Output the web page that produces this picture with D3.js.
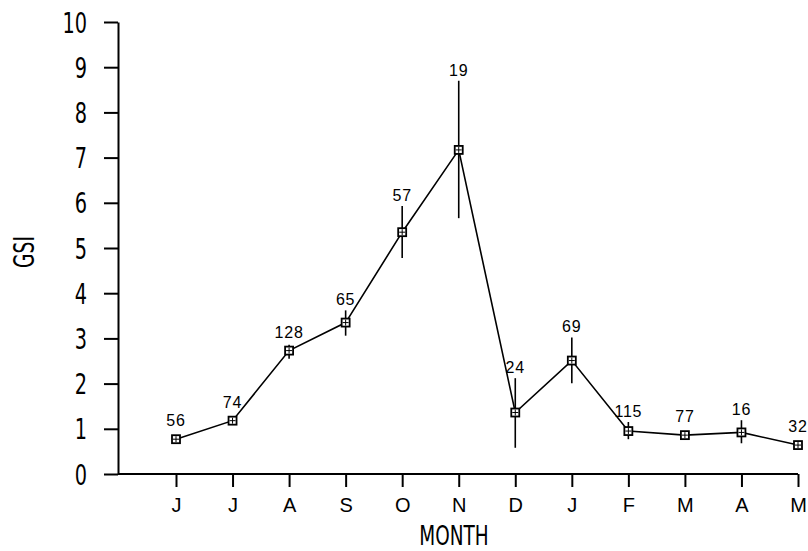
<!DOCTYPE html>
<html>
<head>
<meta charset="utf-8">
<script src="https://cdn.jsdelivr.net/npm/d3@7"></script>
<style>
  html, body { margin: 0; padding: 0; background: #fff; }
  svg { display: block; }
  .plotter { font-family: "Liberation Sans Narrow", "DejaVu Sans Condensed", sans-serif; }
  .roman { font-family: "Liberation Sans", Arial, sans-serif; }
</style>
</head>
<body>
<svg id="chart" width="808" height="551"></svg>
<script>
// Monthly gonadosomatic index (GSI), mean with range bars and sample size
const months = ["J", "J", "A", "S", "O", "N", "D", "J", "F", "M", "A", "M"];
const gsiMean = [0.77, 1.18, 2.73, 3.35, 5.35, 7.17, 1.36, 2.51, 0.95, 0.86, 0.92, 0.64];
const gsiLow  = [0.72, 1.12, 2.55, 3.06, 4.78, 5.66, 0.58, 2.01, 0.77, 0.80, 0.68, 0.60];
const gsiHigh = [0.82, 1.24, 2.86, 3.62, 5.93, 8.70, 2.12, 3.02, 1.15, 0.92, 1.19, 0.68];
const sampleN = [56, 74, 128, 65, 57, 19, 24, 69, 115, 77, 16, 32];
const yTicks = [0, 1, 2, 3, 4, 5, 6, 7, 8, 9, 10];

const svg = d3.select("#chart");
const x = d3.scaleLinear().domain([0, months.length - 1]).range([176, 798]);
const y = d3.scaleLinear().domain([0, 10]).range([474, 22]);
const axisLeftX = 118;

// Y axis
const gy = svg.append("g").attr("transform", `translate(${axisLeftX},0)`)
  .call(d3.axisLeft(y).tickValues(yTicks).tickSize(14).tickSizeOuter(0).tickFormat(d3.format("d")));
gy.select(".domain").attr("stroke-width", 2);
gy.selectAll(".tick line").attr("stroke-width", 2);
gy.selectAll(".tick text")
  .attr("class", "plotter")
  .attr("x", null).attr("dy", null)
  .attr("font-size", 29)
  .attr("text-anchor", "end")
  .attr("transform", "translate(-31,10) scale(0.74,1)");

// X axis
const gx = svg.append("g").attr("transform", `translate(0,${y(0)})`)
  .call(d3.axisBottom(x).tickValues(d3.range(months.length)).tickSize(13).tickSizeOuter(0)
    .tickFormat(i => months[i]));
gx.select(".domain").attr("d", `M${axisLeftX},0H${x(months.length - 1)}`).attr("stroke-width", 2);
gx.selectAll(".tick line").attr("stroke-width", 2);
gx.selectAll(".tick text")
  .attr("class", "roman")
  .attr("font-size", 20)
  .attr("y", 38).attr("dy", null);
svg.selectAll(".tick text").attr("fill", "#000");
svg.selectAll(".domain, .tick line").attr("stroke", "#000");

// Axis titles
svg.append("text").attr("class", "plotter")
  .attr("font-size", 27)
  .attr("text-anchor", "middle")
  .attr("transform", "translate(454,545) scale(0.76,1)")
  .text("MONTH");
svg.append("text").attr("class", "plotter")
  .attr("font-size", 28)
  .attr("text-anchor", "middle")
  .attr("transform", "translate(34,252) rotate(-90) scale(0.74,1)")
  .text("GSI");

const idx = d3.range(months.length);

// Range bars
svg.append("g").selectAll("line").data(idx).join("line")
  .attr("x1", i => x(i)).attr("x2", i => x(i))
  .attr("y1", i => y(gsiLow[i])).attr("y2", i => y(gsiHigh[i]))
  .attr("stroke", "#000").attr("stroke-width", 1.6);

// Connecting line
svg.append("path")
  .datum(idx)
  .attr("fill", "none").attr("stroke", "#000").attr("stroke-width", 1.6)
  .attr("d", d3.line().x(i => x(i)).y(i => y(gsiMean[i])));

// Square markers with inner cross
const mk = svg.append("g").selectAll("g").data(idx).join("g")
  .attr("transform", i => `translate(${x(i)},${y(gsiMean[i])})`);
mk.append("rect")
  .attr("x", -4).attr("y", -4).attr("width", 8).attr("height", 8)
  .attr("fill", "#fff").attr("stroke", "#000").attr("stroke-width", 1.8);
mk.append("path")
  .attr("d", "M-3,0H3M0,-3V3")
  .attr("stroke", "#000").attr("stroke-width", 1);

// Sample-size labels
svg.append("g").selectAll("text").data(idx).join("text")
  .attr("class", "roman")
  .attr("font-size", 16)
  .attr("letter-spacing", 0.8)
  .attr("text-anchor", "middle")
  .attr("fill", "#000")
  .attr("x", i => x(i))
  .attr("y", i => Math.min(y(gsiHigh[i]) - 5, y(gsiMean[i]) - 13))
  .text(i => sampleN[i]);
</script>
</body>
</html>
